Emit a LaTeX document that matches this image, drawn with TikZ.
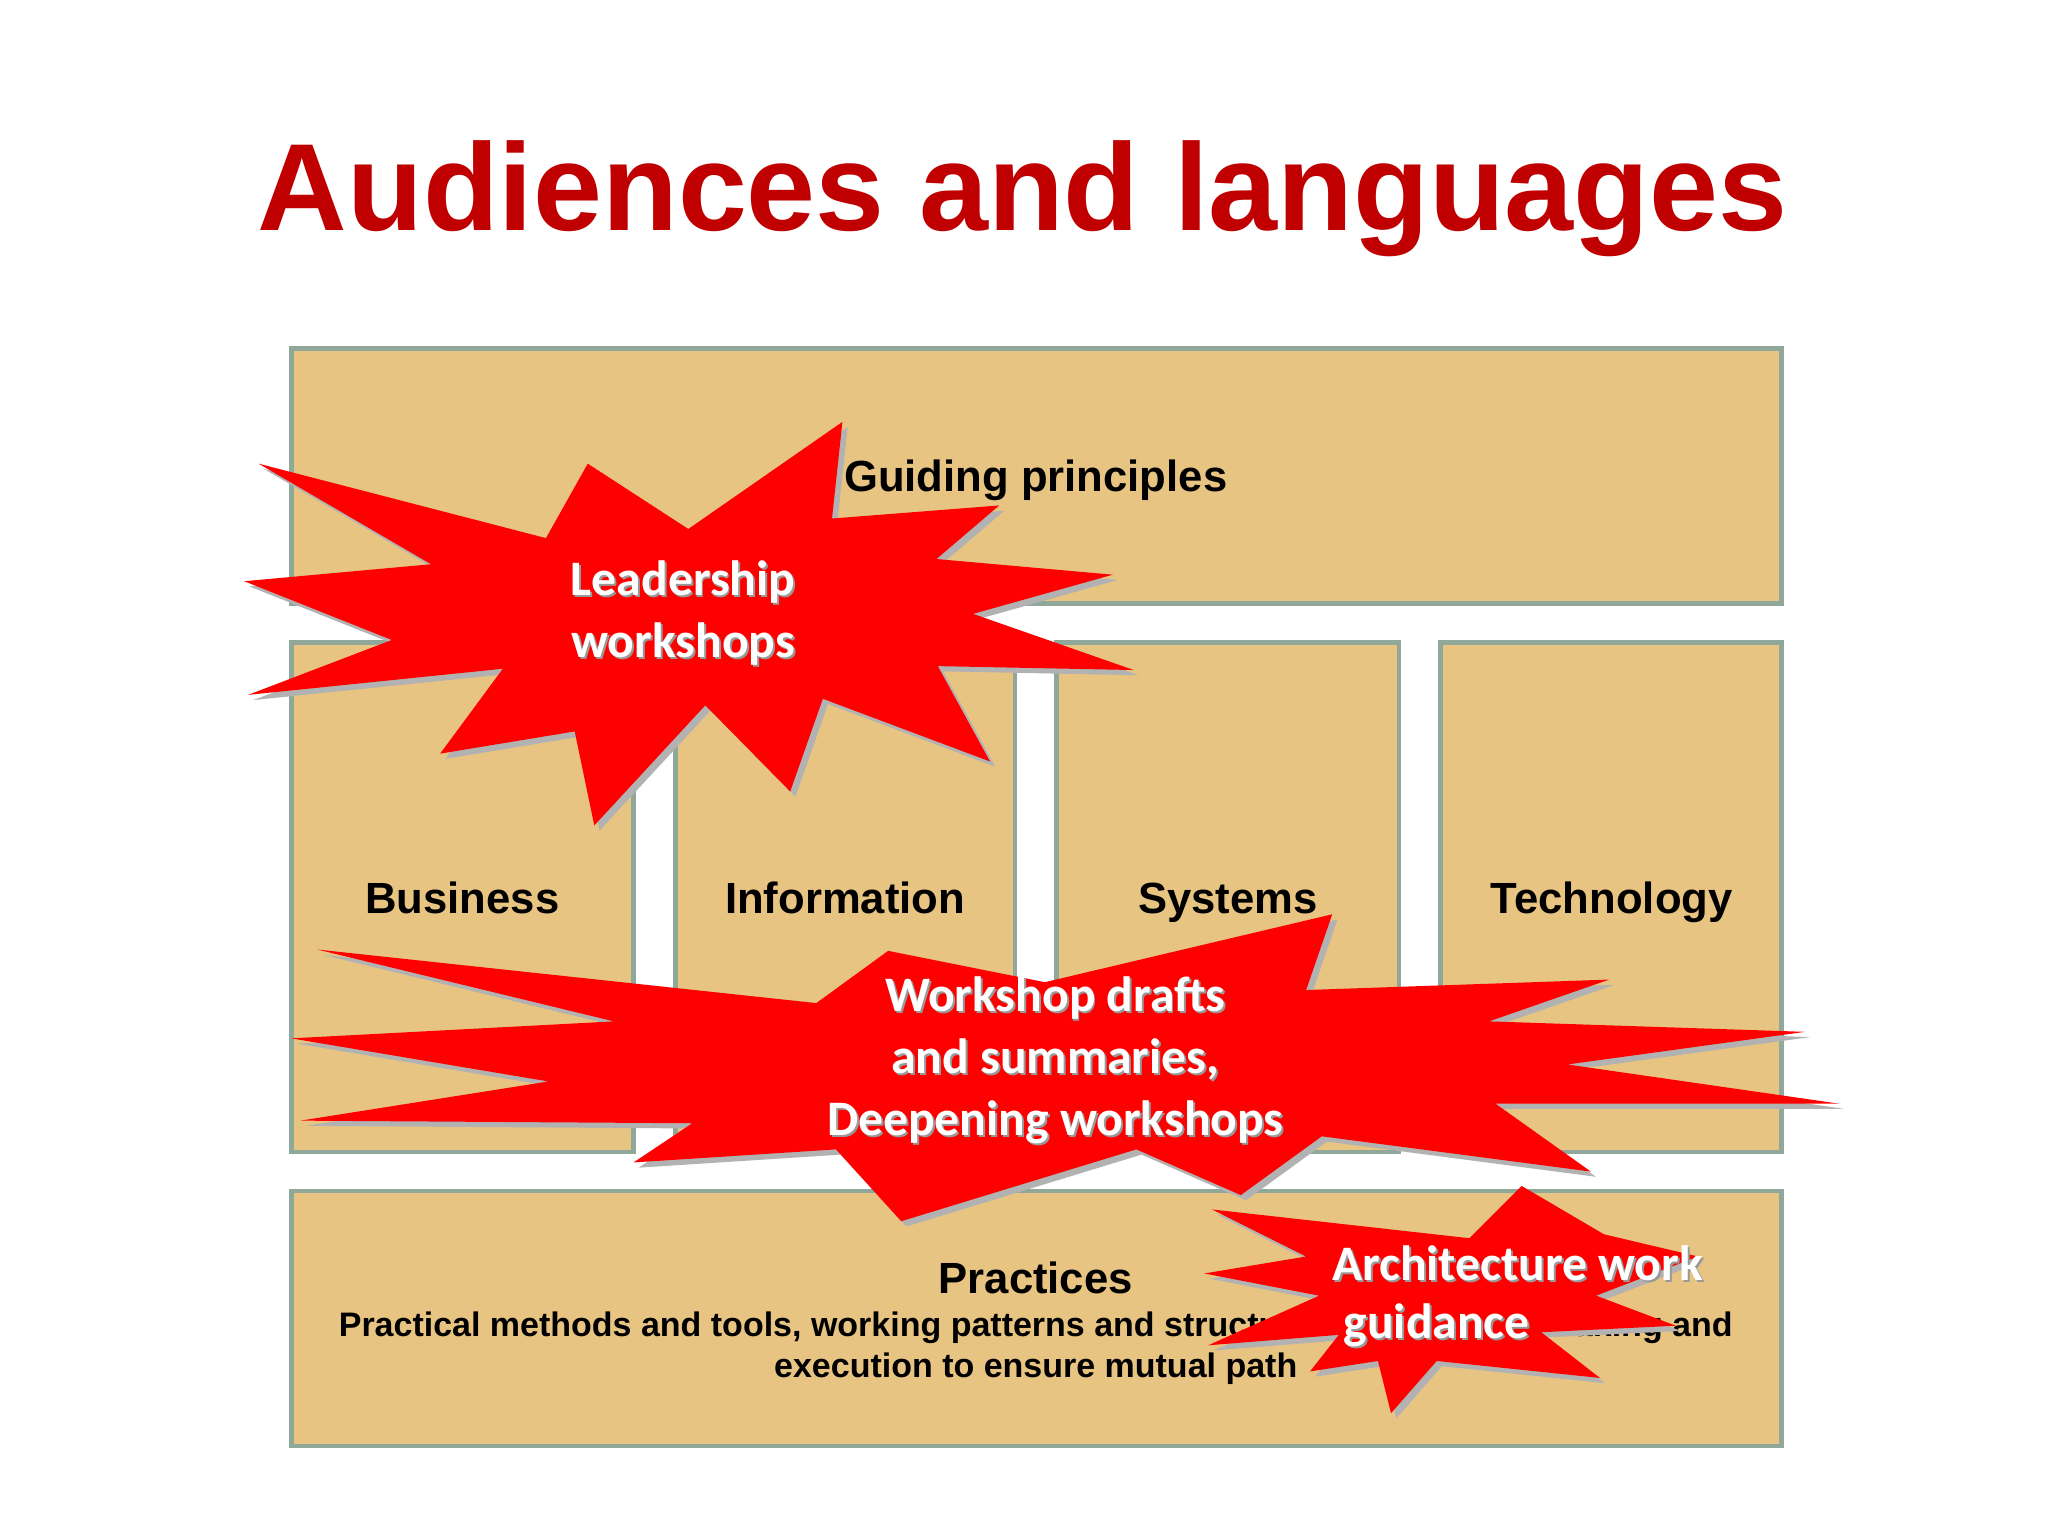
\documentclass[tikz,border=0pt]{standalone}
\usepackage{fontspec}
\setmainfont{Liberation Sans}
\newfontfamily\carl{Carlito}
\definecolor{boxfill}{HTML}{E8C483}
\definecolor{boxline}{HTML}{8FA89A}
\definecolor{titlered}{HTML}{C00000}
\definecolor{starred}{HTML}{FF0000}
\begin{document}
\begin{tikzpicture}[x=0.01cm,y=-0.01cm,
  panel/.style={draw=boxline,fill=boxfill,line width=1pt},
  lbl/.style={font=\fontsize{9.5}{11}\selectfont\bfseries,text=black,text height=1.5ex,text depth=0.4ex},
  startext/.style={font=\carl\fontsize{10.8}{13.5}\selectfont\bfseries,text=white,align=center},
  starshadow/.style={text=black!40,align=center,font=\carl\fontsize{10.8}{13.5}\selectfont\bfseries}]
\useasboundingbox[fill=white] (0,0) rectangle (1568,1176);
\node[font=\fontsize{27}{30}\selectfont\bfseries,text=titlered] (title) at (783,152) {Audiences and languages};
\draw[panel] (223,267) rectangle (1364,462);
\draw[panel] (223,492) rectangle (485,882);
\draw[panel] (517,492) rectangle (777,882);
\draw[panel] (809,492) rectangle (1071,882);
\draw[panel] (1103,492) rectangle (1364,882);
\draw[panel] (223,912) rectangle (1364,1107);
\node[lbl] (gp) at (793,366) {Guiding principles};
\node[lbl] (bus) at (354,689) {Business};
\node[lbl] (inf) at (647,689) {Information};
\node[lbl] (sys) at (940,689) {Systems};
\node[lbl] (tec) at (1234,689) {Technology};
\node[lbl] (pra) at (793,980) {Practices};
\node[font=\fontsize{7.4}{9}\selectfont\bfseries,align=center] (prt) at (793,1032) {Practical methods and tools, working patterns and structures for decision-making and\\execution to ensure mutual path};
\def\starA{(645,323) -- (637,397) -- (765,387) -- (717,428) -- (852,440) -- (745,470) -- (868,513) -- (718,510) -- (758,583) -- (630,535) -- (605,606) -- (540,540) -- (455,632) -- (440,560) -- (337,577) -- (385,512) -- (190,532) -- (300,490) -- (187,445) -- (330,432) -- (198,355) -- (418,412) -- (450,355) -- (527,405) -- cycle}
\def\starB{(1020,700) -- (1000,758) -- (1232,750) -- (1140,782) -- (1382,790) -- (1200,815) -- (1408,845) -- (1145,845) -- (1218,897) -- (1012,870) -- (950,915) -- (870,880) -- (690,935) -- (640,880) -- (485,890) -- (530,860) -- (230,858) -- (420,828) -- (223,795) -- (470,782) -- (243,727) -- (625,768) -- (680,728) -- (800,752) -- cycle}
\def\starC{(1165,908) -- (1125,948) -- (928,926) -- (1000,962) -- (922,975) -- (1010,992) -- (925,1030) -- (1025,1022) -- (1003,1050) -- (1055,1042) -- (1065,1082) -- (1100,1042) -- (1225,1055) -- (1180,1020) -- (1283,1015) -- (1222,992) -- (1300,962) -- (1228,945) -- cycle}
\foreach \s in {\starA,\starB,\starC}{
  \fill[black!30,shift={(4,4)}] \s;
  \fill[starred] \s;
}
\node[starshadow] at (524.5,470.5) {Leadership\\workshops};
\node[startext] (lw) at (523,469) {Leadership\\workshops};
\node[starshadow] at (809.5,813.5) {Workshop drafts\\and summaries,\\Deepening workshops};
\node[startext] (wd) at (808,812) {Workshop drafts\\and summaries,\\Deepening workshops};
\node[starshadow] at (1163.5,968.5) {Architecture work};
\node[startext] (aw) at (1162,967) {Architecture work};
\node[starshadow] at (1101.5,1016.5) {guidance};
\node[startext] (gd) at (1100,1015) {guidance};
\end{tikzpicture}
\end{document}
